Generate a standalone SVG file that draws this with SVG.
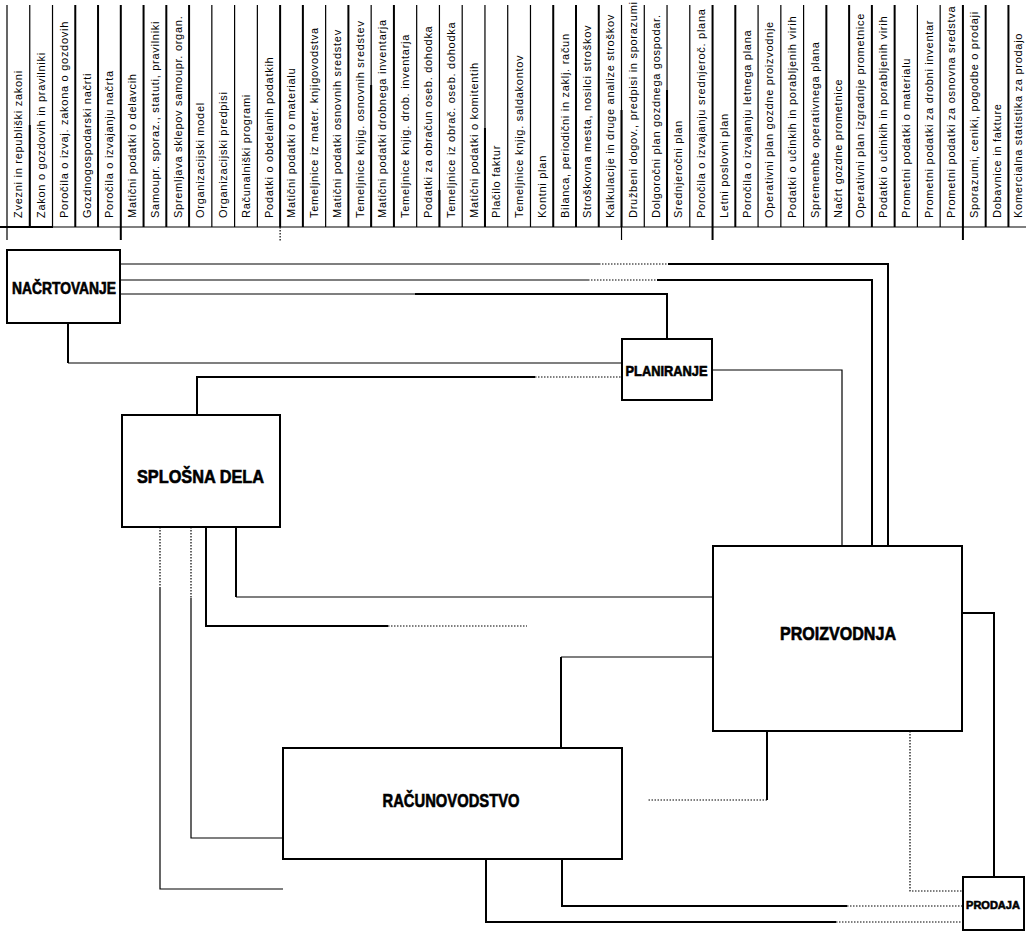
<svg xmlns="http://www.w3.org/2000/svg" width="1026" height="934" viewBox="0 0 1026 934">
<style>
.hd{font-family:"Liberation Sans",Arial,sans-serif;font-size:11px;letter-spacing:0.72px;fill:#000}
.sep{stroke:#000;stroke-width:1.2;fill:none}
.sepk{stroke:#000;stroke-width:2;fill:none}
.box{fill:#fff;stroke:#000;stroke-width:2}
.lbl{font-family:"Liberation Sans",Arial,sans-serif;font-weight:bold;fill:#000;stroke:#000;stroke-width:0.6;text-anchor:middle}
.c1{stroke:#000;stroke-width:1.2;fill:none}
.c2{stroke:#000;stroke-width:2;fill:none}
.cd{stroke:#000;stroke-width:1.2;fill:none;stroke-dasharray:1.5 1.5}
</style>
<rect width="1026" height="934" fill="#fff"/>
<g id="header">
<g class="sep">
<path d="M7 5V240M29.76 5V227M52.52 5V227M211.84 5V227M234.6 5V227M257.36 5V227M325.64 5V227M371.16 5V227M416.68 5V227M439.44 5V227M462.2 5V227M484.96 5V227M507.72 5V227M530.48 5V227M621.52 5V240M644.28 5V227M667.04 5V227M689.8 5V227M758.08 5V227M780.84 5V227M803.6 5V227M917.4 5V227M940.16 5V227"/>
</g>
<g class="sepk">
<path d="M29.76 125V227M75.28 5V227M98.04 5V227M120.8 5V240M143.56 5V227M166.32 5V227M189.08 5V227M280.12 5V227M302.88 5V227M348.4 5V227M371.16 85V227M393.92 5V227M439.44 190V227M484.96 128V227M553.24 5V227M576 5V227M598.76 5V227M621.52 110V227M667.04 90V227M712.56 5V240M735.32 5V227M826.36 5V227M849.12 5V227M871.88 5V227M894.64 5V227M962.92 5V240M985.68 5V227M1008.44 5V227"/>
</g>
<path d="M0 227H1026" class="sep"/>
<path d="M0 227H53" class="sepk"/>
<path d="M280.12 227V241" class="cd"/>
<text class="hd" transform="translate(22.3 218) rotate(-90)">Zvezni in republiški zakoni</text>
<text class="hd" transform="translate(45.06 218) rotate(-90)">Zakon o gozdovih in pravilniki</text>
<text class="hd" transform="translate(67.82 218) rotate(-90)">Poročila o izvaj. zakona o gozdovih</text>
<text class="hd" transform="translate(90.58 218) rotate(-90)">Gozdnogospodarski načrti</text>
<text class="hd" transform="translate(113.34 218) rotate(-90)">Poročila o izvajanju načrta</text>
<text class="hd" transform="translate(136.1 218) rotate(-90)">Matični podatki o delavcih</text>
<text class="hd" transform="translate(158.86 218) rotate(-90)">Samoupr. sporaz., statuti, pravilniki</text>
<text class="hd" transform="translate(181.62 218) rotate(-90)">Spremljava sklepov samoupr. organ.</text>
<text class="hd" transform="translate(204.38 218) rotate(-90)">Organizacijski model</text>
<text class="hd" transform="translate(227.14 218) rotate(-90)">Organizacijski predpisi</text>
<text class="hd" transform="translate(249.9 218) rotate(-90)">Računalniški programi</text>
<text class="hd" transform="translate(272.66 218) rotate(-90)">Podatki o obdelanih podatkih</text>
<text class="hd" transform="translate(295.42 218) rotate(-90)">Matični podatki o materialu</text>
<text class="hd" transform="translate(318.18 218) rotate(-90)">Temeljnice iz mater. knjigovodstva</text>
<text class="hd" transform="translate(340.94 218) rotate(-90)">Matični podatki osnovnih sredstev</text>
<text class="hd" transform="translate(363.7 218) rotate(-90)">Temeljnice knjig. osnovnih sredstev</text>
<text class="hd" transform="translate(386.46 218) rotate(-90)">Matični podatki drobnega inventarja</text>
<text class="hd" transform="translate(409.22 218) rotate(-90)">Temeljnice knjig. drob. inventarja</text>
<text class="hd" transform="translate(431.98 218) rotate(-90)">Podatki za obračun oseb. dohodka</text>
<text class="hd" transform="translate(454.74 218) rotate(-90)">Temeljnice iz obrač. oseb. dohodka</text>
<text class="hd" transform="translate(477.5 218) rotate(-90)">Matični podatki o komitentih</text>
<text class="hd" transform="translate(500.26 218) rotate(-90)">Plačilo faktur</text>
<text class="hd" transform="translate(523.02 218) rotate(-90)">Temeljnice knjig. saldakontov</text>
<text class="hd" transform="translate(545.78 218) rotate(-90)">Kontni plan</text>
<text class="hd" transform="translate(568.54 218) rotate(-90)">Bilanca, periodični in zaklj. račun</text>
<text class="hd" transform="translate(591.3 218) rotate(-90)">Stroškovna mesta, nosilci stroškov</text>
<text class="hd" transform="translate(614.06 218) rotate(-90)">Kalkulacije in druge analize stroškov</text>
<text class="hd" transform="translate(636.82 218) rotate(-90)">Družbeni dogov., predpisi in sporazumi</text>
<text class="hd" transform="translate(659.58 218) rotate(-90)">Dolgoročni plan gozdnega gospodar.</text>
<text class="hd" transform="translate(682.34 218) rotate(-90)">Srednjeročni plan</text>
<text class="hd" transform="translate(705.1 218) rotate(-90)">Poročila o izvajanju srednjeroč. plana</text>
<text class="hd" transform="translate(727.86 218) rotate(-90)">Letni poslovni plan</text>
<text class="hd" transform="translate(750.62 218) rotate(-90)">Poročila o izvajanju letnega plana</text>
<text class="hd" transform="translate(773.38 218) rotate(-90)">Operativni plan gozdne proizvodnje</text>
<text class="hd" transform="translate(796.14 218) rotate(-90)">Podatki o učinkih in porabljenih virih</text>
<text class="hd" transform="translate(818.9 218) rotate(-90)">Spremembe operativnega plana</text>
<text class="hd" transform="translate(841.66 218) rotate(-90)">Načrt gozdne prometnice</text>
<text class="hd" transform="translate(864.42 218) rotate(-90)">Operativni plan izgradnje prometnice</text>
<text class="hd" transform="translate(887.18 218) rotate(-90)">Podatki o učinkih in porabljenih virih</text>
<text class="hd" transform="translate(909.94 218) rotate(-90)">Prometni podatki o materialu</text>
<text class="hd" transform="translate(932.7 218) rotate(-90)">Prometni podatki za drobni inventar</text>
<text class="hd" transform="translate(955.46 218) rotate(-90)">Prometni podatki za osnovna sredstva</text>
<text class="hd" transform="translate(978.22 218) rotate(-90)">Sporazumi, ceniki, pogodbe o prodaji</text>
<text class="hd" transform="translate(1000.98 218) rotate(-90)">Dobavnice in fakture</text>
<text class="hd" transform="translate(1021.5 218) rotate(-90)">Komercialna statistika za prodajo</text>
</g>
<g id="connectors">
<path class="c1" d="M120 264H599"/>
<path class="cd" d="M599 264H668"/>
<path class="c2" d="M668 264H888V546"/>
<path class="c1" d="M120 280H588"/>
<path class="cd" d="M588 280H657"/>
<path class="c2" d="M657 280H872V546"/>
<path class="c1" d="M120 294H415"/>
<path class="c2" d="M415 294H667V339"/>
<path class="c2" d="M68 323V363"/>
<path class="c1" d="M68 363H622"/>
<path class="c2" d="M197 415V377H535"/>
<path class="cd" d="M535 377H622"/>
<path class="c1" d="M712 370H842V546"/>
<path class="c2" d="M236 527V597"/>
<path class="c1" d="M236 597H713"/>
<path class="c2" d="M206 527V626H388"/>
<path class="cd" d="M388 626H527"/>
<path class="cd" d="M191 527V598"/>
<path class="c1" d="M191 598V838H283"/>
<path class="cd" d="M160 527V587"/>
<path class="c1" d="M160 587V889H283"/>
<path class="c1" d="M713 657H561"/>
<path class="c2" d="M561 657V748"/>
<path class="c2" d="M767 731V800"/>
<path class="cd" d="M767 800H648"/>
<path class="c2" d="M962 613H994V877"/>
<path class="cd" d="M910 731V891H963"/>
<path class="c2" d="M562 859V906H847"/>
<path class="cd" d="M847 906H963"/>
<path class="c2" d="M486 859V922H836"/>
<path class="cd" d="M836 922H963"/>
</g>
<g id="nacrtovanje">
<rect class="box" x="7" y="250" width="113" height="73"/>
<text class="lbl" x="64" y="294" font-size="16" textLength="104" lengthAdjust="spacingAndGlyphs">NAČRTOVANJE</text>
</g>
<g id="planiranje">
<rect class="box" x="622" y="339" width="90" height="61"/>
<text class="lbl" x="666.5" y="376" font-size="14" textLength="82" lengthAdjust="spacingAndGlyphs">PLANIRANJE</text>
</g>
<g id="splosna-dela">
<rect class="box" x="122" y="415" width="158" height="112"/>
<text class="lbl" x="200.5" y="483" font-size="18" textLength="127" lengthAdjust="spacingAndGlyphs">SPLOŠNA DELA</text>
</g>
<g id="proizvodnja">
<rect class="box" x="713" y="546" width="249" height="185"/>
<text class="lbl" x="838" y="640" font-size="18" textLength="116" lengthAdjust="spacingAndGlyphs">PROIZVODNJA</text>
</g>
<g id="racunovodstvo">
<rect class="box" x="283" y="748" width="339" height="111"/>
<text class="lbl" x="451" y="807" font-size="18" textLength="137" lengthAdjust="spacingAndGlyphs">RAČUNOVODSTVO</text>
</g>
<g id="prodaja">
<rect class="box" x="963" y="877" width="61" height="53"/>
<text class="lbl" x="993" y="909" font-size="11">PRODAJA</text>
</g>
</svg>
